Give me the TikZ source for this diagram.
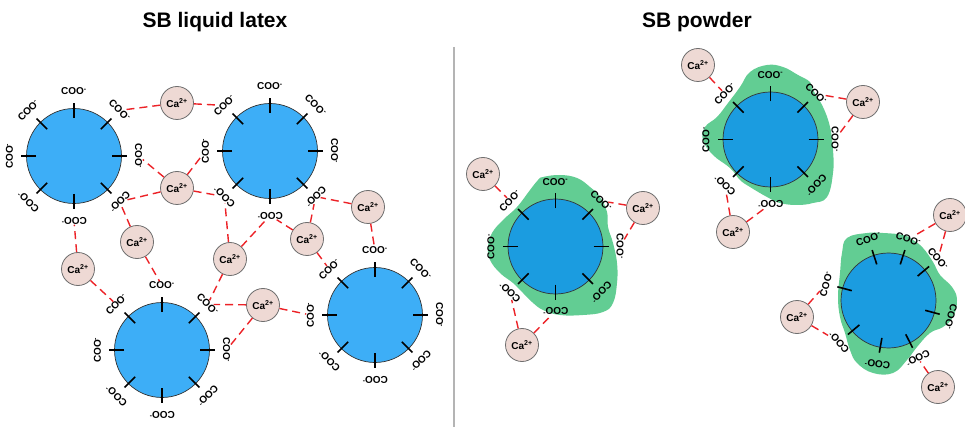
\documentclass[tikz,border=0pt]{standalone}
\usepackage{fontspec}
\setmainfont{Liberation Sans}
\usetikzlibrary{calc}

\definecolor{beadL}{HTML}{3DAEF7}
\definecolor{beadR}{HTML}{1B9CE0}
\definecolor{shell}{HTML}{62CD93}
\definecolor{ionfill}{HTML}{EED9D4}
\definecolor{ionline}{HTML}{6E6E6E}
\definecolor{bridge}{HTML}{EC2227}
\definecolor{divider}{HTML}{B4B4B4}

\tikzset{
  bead/.style={circle, draw=black!80, line width=0.7pt, minimum size=95pt, inner sep=0pt},
  stub/.style={line width=1.6pt, black},
  lig/.style={font=\bfseries\fontsize{10}{10}\selectfont, inner sep=0.5pt},
  ion/.style={circle, draw=ionline, fill=ionfill, line width=0.8pt, minimum size=33pt,
    inner sep=0pt, font=\bfseries\fontsize{10}{10}\selectfont},
  bridgeline/.style={draw=bridge, line width=1.4pt, dash pattern=on 8pt off 5pt},
  paneltitle/.style={font=\bfseries\fontsize{21}{21}\selectfont, anchor=base},
  shellfill/.style={fill=shell, draw=none}
}

% Ca2+ ion: name, x, y (y measured downwards)
\newcommand\ionnode[3]{\node[ion] (#1) at (#2,-#3) {Ca\textsuperscript{2+}};}

% latex particle with carboxylate groups: name, x, y, fill, list of angles
\newcommand\sbbead[5]{%
  \node[bead, fill=#4] (#1) at (#2,-#3) {};
  \foreach \a in {#5}{%
    \draw[stub] ($(#1)+(\a:38)$) -- ($(#1)+(\a:53)$);
    \node[lig, rotate=\a-90] (#1-\a) at ($(#1)+(\a:64.5)$) {COO\textsuperscript{-}};
  }%
}

\begin{document}
\begin{tikzpicture}[x=1pt, y=1pt]
\useasboundingbox (0,0) rectangle (965,-427);

% titles and divider
\node[paneltitle] (tl) at (215,-28) {SB liquid latex};
\node[paneltitle] (tr) at (697,-28) {SB powder};
\draw[divider, line width=1.6pt] (454,-47) -- (454,-427);

% polymer shells of the powder particles
\fill[shellfill] plot[smooth cycle, tension=0.7] coordinates {
  (543,-177) (560,-175) (577,-178) (590,-187) (600,-197) (607,-212) (608,-227)
  (613,-243) (617,-263) (617,-283) (613,-303) (603,-312) (583,-315) (560,-315)
  (543,-310) (532,-302) (523,-293) (513,-283) (500,-273) (490,-260) (488,-247)
  (492,-233) (503,-220) (517,-207) (530,-190) (538,-180)};
\fill[shellfill] plot[smooth cycle, tension=0.7] coordinates {
  (750,-72) (767,-65) (783,-67) (798,-75) (810,-82) (813,-90) (823,-107)
  (830,-127) (833,-150) (833,-173) (827,-197) (813,-203) (797,-205) (780,-203)
  (767,-197) (750,-187) (740,-180) (730,-168) (713,-155) (703,-140) (705,-127)
  (717,-117) (728,-103) (740,-87)};
\fill[shellfill] plot[smooth cycle, tension=0.7] coordinates {
  (847,-238) (867,-233) (883,-233) (903,-235) (913,-240) (923,-248) (933,-262)
  (940,-275) (952,-287) (957,-300) (953,-317) (943,-327) (930,-333) (917,-347)
  (907,-360) (893,-373) (873,-373) (857,-363) (850,-350) (845,-333) (840,-317)
  (838,-297) (840,-273) (842,-253)};

% liquid latex particles
\sbbead{p1}{74}{156}{beadL}{0,45,90,135,180,225,270,315}
\sbbead{p2}{270}{151}{beadL}{0,45,90,135,180,225,270,315}
\sbbead{p3}{162}{350}{beadL}{0,45,90,135,180,225,270,315}
\sbbead{p4}{375}{315}{beadL}{0,45,90,135,180,225,270,315}

% powder particles
\sbbead{q1}{555.5}{246.5}{beadR}{0,45,90,135,180,225,270,315}
\sbbead{q2}{770.5}{139.5}{beadR}{0,45,90,135,180,225,270,315}
\sbbead{q3}{888.5}{300.5}{beadR}{165,108,72,40,345,297,260,220}

% calcium ions
\ionnode{caA}{177}{103}
\ionnode{caB}{177}{188}
\ionnode{caC}{137}{242}
\ionnode{caD}{78}{269}
\ionnode{caE}{230}{259}
\ionnode{caF}{368}{207}
\ionnode{caG}{307}{239}
\ionnode{caH}{263}{305}
\ionnode{r1}{483}{174}
\ionnode{r2}{643}{208}
\ionnode{r3}{522}{345}
\ionnode{r4}{698}{65}
\ionnode{r5}{863}{102}
\ionnode{r6}{733}{232}
\ionnode{r7}{950}{215}
\ionnode{r8}{797}{317}
\ionnode{r9}{938}{387}

% ionic bridges, liquid latex
\draw[bridgeline] (caA) -- (p1-45);
\draw[bridgeline] (caA) -- (p2-135);
\draw[bridgeline] (caB) -- (p1-0);
\draw[bridgeline] (caB) -- (p1-315);
\draw[bridgeline] (caB) -- (p2-180);
\draw[bridgeline] (caB) -- (p2-225);
\draw[bridgeline] (caC) -- (p1-315);
\draw[bridgeline] (caC) -- (p3-90);
\draw[bridgeline] (caD) -- (p1-270);
\draw[bridgeline] (caD) -- (p3-135);
\draw[bridgeline] (caE) -- (p2-225);
\draw[bridgeline] (caE) -- (p2-270);
\draw[bridgeline] (caE) -- (p3-45);
\draw[bridgeline] (caF) -- (p2-315);
\draw[bridgeline] (caF) -- (p4-90);
\draw[bridgeline] (caG) -- (p2-315);
\draw[bridgeline] (caG) -- (p2-270);
\draw[bridgeline] (caG) -- (p4-135);
\draw[bridgeline] (caH) -- (p3-45);
\draw[bridgeline] (caH) -- (p3-0);
\draw[bridgeline] (caH) -- (p4-180);

% ionic bridges, powder
\draw[bridgeline] (r1) -- (q1-135);
\draw[bridgeline] (r2) -- (q1-45);
\draw[bridgeline] (r2) -- (q1-0);
\draw[bridgeline] (r3) -- (q1-225);
\draw[bridgeline] (r3) -- (q1-270);
\draw[bridgeline] (r4) -- (q2-135);
\draw[bridgeline] (r5) -- (q2-45);
\draw[bridgeline] (r5) -- (q2-0);
\draw[bridgeline] (r6) -- (q2-225);
\draw[bridgeline] (r6) -- (q2-270);
\draw[bridgeline] (r7) -- (q3-72);
\draw[bridgeline] (r7) -- (q3-40);
\draw[bridgeline] (r8) -- (q3-165);
\draw[bridgeline] (r8) -- (q3-220);
\draw[bridgeline] (r9) -- (q3-297);
\end{tikzpicture}
\end{document}
